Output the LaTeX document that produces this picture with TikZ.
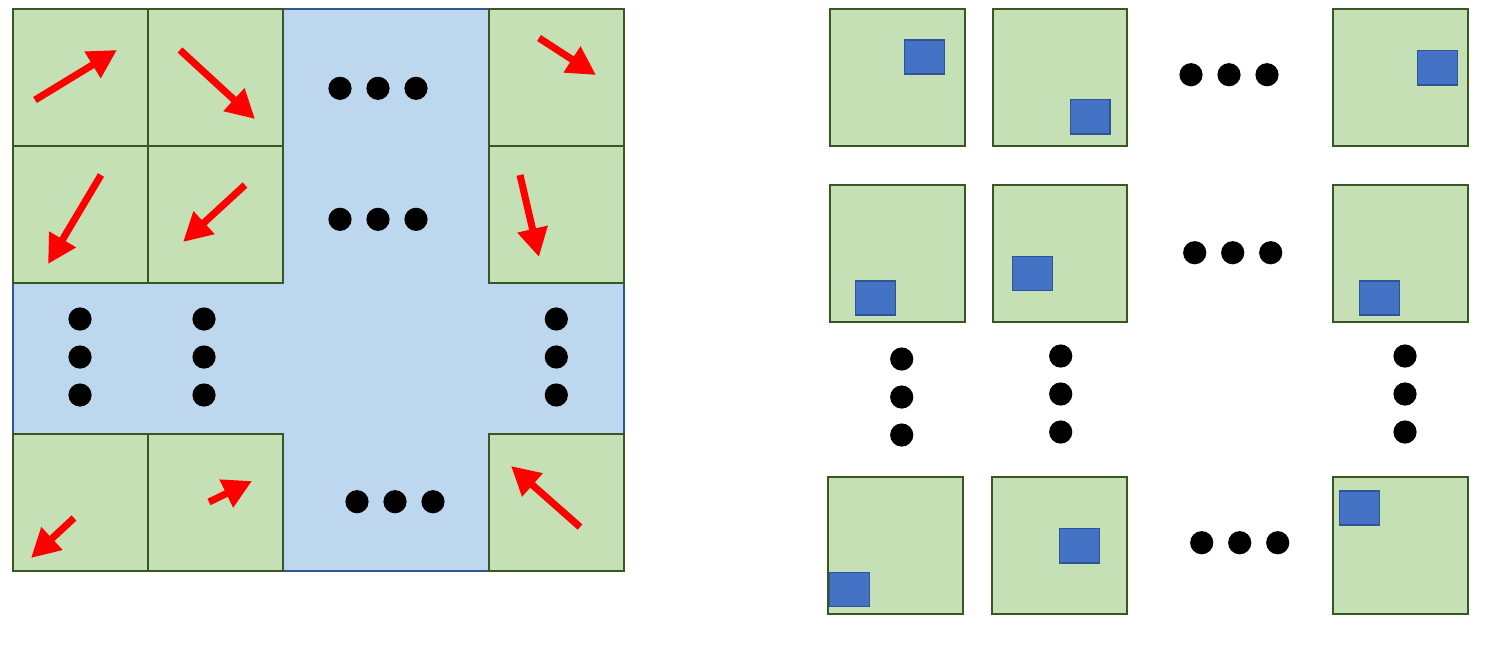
\documentclass[tikz,border=0pt]{standalone}
\usetikzlibrary{arrows.meta}
\definecolor{cellgreen}{HTML}{C5E0B4}
\definecolor{celledge}{HTML}{385723}
\definecolor{lightblue}{HTML}{BDD7EE}
\definecolor{blueedge}{HTML}{2F5597}
\definecolor{smallblue}{HTML}{4472C4}
\tikzset{
  cell/.style={fill=cellgreen,draw=celledge,line width=1.3pt},
  back/.style={fill=lightblue,draw=blueedge,line width=1.2pt},
  bluemark/.style={fill=smallblue,draw=blueedge,line width=1pt},
  redarrow/.style={draw=red,line width=5.3pt,-{Triangle[length=21.5pt,width=22pt]}},
  dotfill/.style={fill=black}
}
\begin{document}
\begin{tikzpicture}[x=0.75pt,y=-0.75pt]
\useasboundingbox (0,0) rectangle (1487,651);
% ---------- left panel ----------
\draw[back] (13,9) rectangle (624,571);
\draw[cell] (13,9) rectangle (148,146);
\draw[cell] (148,9) rectangle (283,146);
\draw[cell] (13,146) rectangle (148,283);
\draw[cell] (148,146) rectangle (283,283);
\draw[cell] (489,9) rectangle (624,146);
\draw[cell] (489,146) rectangle (624,283);
\draw[cell] (13,434) rectangle (148,571);
\draw[cell] (148,434) rectangle (283,571);
\draw[cell] (489,434) rectangle (624,571);
% arrows
\draw[redarrow] (35,100) -- (117,50);
\draw[redarrow] (180,50) -- (255,119);
\draw[redarrow] (101,175) -- (48,264);
\draw[redarrow] (245,185) -- (183,242);
\draw[redarrow] (539,38) -- (596,75);
\draw[redarrow] (520,175) -- (539,257);
\draw[redarrow] (74,518) -- (31,558);
\draw[redarrow] (209,502) -- (252,481);
\draw[redarrow] (580,527) -- (511,466);
% dots
\foreach \x in {340,378,416} {
  \fill[dotfill] (\x,88.3) circle (8.7pt);
  \fill[dotfill] (\x,219.3) circle (8.7pt);
}
\foreach \x in {357,395,433} \fill[dotfill] (\x,501.7) circle (8.7pt);
\foreach \y in {319,357,395} {
  \fill[dotfill] (80,\y) circle (8.7pt);
  \fill[dotfill] (204,\y) circle (8.7pt);
  \fill[dotfill] (556.3,\y) circle (8.7pt);
}
% ---------- right panel ----------
\draw[cell] (830,9) rectangle (965,146);
\draw[bluemark] (904.7,40) rectangle (944.3,74);
\draw[cell] (993,9) rectangle (1127,146);
\draw[bluemark] (1070.7,99.7) rectangle (1110,134);
\draw[cell] (1333,9) rectangle (1468.3,146);
\draw[bluemark] (1417.7,50.7) rectangle (1457.3,85);
\draw[cell] (830,185) rectangle (965,321.7);
\draw[bluemark] (855.7,281) rectangle (895.3,315);
\draw[cell] (993,185) rectangle (1127,321.7);
\draw[bluemark] (1012.7,256.7) rectangle (1052.3,290.7);
\draw[cell] (1333,185) rectangle (1468.3,321.7);
\draw[bluemark] (1359.7,281) rectangle (1399.3,315);
\draw[cell] (827.7,476.7) rectangle (963.3,614);
\draw[bluemark] (829.3,572.7) rectangle (869.3,606.7);
\draw[cell] (991.7,476.7) rectangle (1127.3,614);
\draw[bluemark] (1059.3,528.7) rectangle (1099.3,563);
\draw[cell] (1333,476.7) rectangle (1468.3,614);
\draw[bluemark] (1339.7,491) rectangle (1379.3,525);
% dots
\foreach \x in {1191,1229,1267} \fill[dotfill] (\x,74.7) circle (8.7pt);
\foreach \x in {1194.7,1232.7,1270.7} \fill[dotfill] (\x,252.7) circle (8.7pt);
\foreach \x in {1201.7,1239.7,1277.7} \fill[dotfill] (\x,542.7) circle (8.7pt);
\foreach \y in {359,397,435} \fill[dotfill] (901.7,\y) circle (8.7pt);
\foreach \y in {356,394,432} {
  \fill[dotfill] (1060.7,\y) circle (8.7pt);
  \fill[dotfill] (1405,\y) circle (8.7pt);
}
\end{tikzpicture}
\end{document}
